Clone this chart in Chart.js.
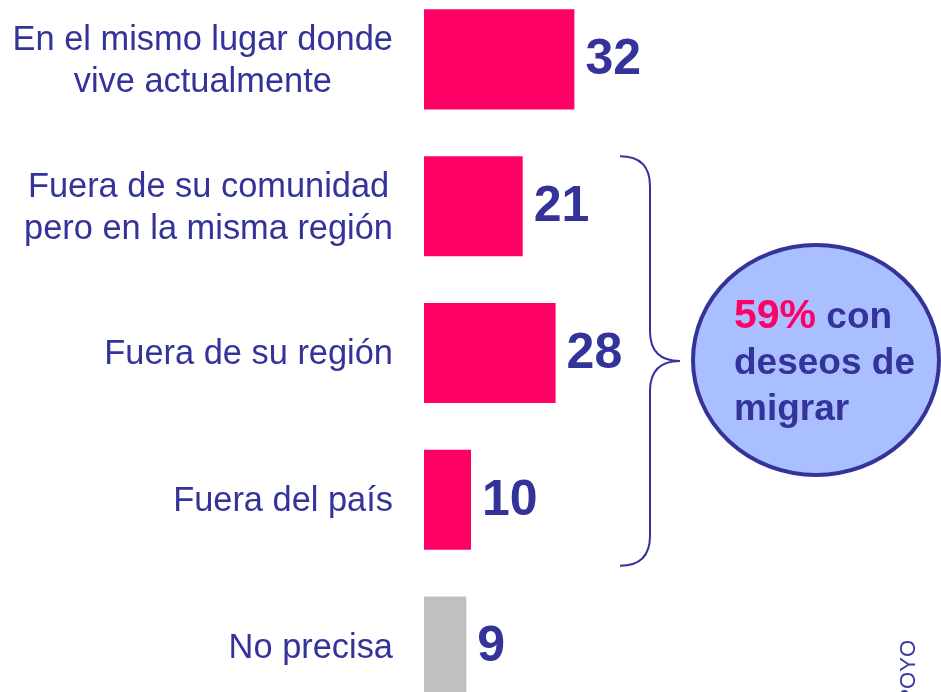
<!DOCTYPE html>
<html>
<head>
<meta charset="utf-8">
<script src="https://cdn.jsdelivr.net/npm/chart.js@4/dist/chart.umd.min.js"></script>
<style>
  html, body { margin: 0; padding: 0; background: #ffffff; overflow: hidden; width: 941px; height: 692px; }
  #wrap { position: absolute; left: 0; top: -14px; width: 941px; height: 734px; }
</style>
</head>
<body>
<div id="wrap"><canvas id="c"></canvas></div>
<script>
// ---- data ----
const categories = [
  ["En el mismo lugar donde", "vive actualmente"],
  ["Fuera de su comunidad", "pero en la misma región"],
  ["Fuera de su región"],
  ["Fuera del país"],
  ["No precisa"]
];
const values = [32, 21, 28, 10, 9];
const barColors = ["#FF0066", "#FF0066", "#FF0066", "#FF0066", "#C0C0C0"];
const noteHighlight = "59%";
const noteLines = [" con", "deseos de", "migrar"];
const sourceText = "APOYO";

const BLUE = "#333399";
const FONT = "'Liberation Sans', Arial, sans-serif";

const labelPlugin = {
  id: "labels",
  afterDatasetsDraw(chart) {
    const ctx = chart.ctx;
    const meta = chart.getDatasetMeta(0);
    const yScale = chart.scales.y;
    ctx.save();
    // category labels: block right-aligned, lines centered in block
    ctx.font = "34.4px " + FONT;
    ctx.fillStyle = BLUE;
    ctx.textBaseline = "middle";
    ctx.textAlign = "center";
    const rightX = 393;
    const lh = 41.7;
    categories.forEach((lines, i) => {
      const cy = yScale.getPixelForValue(i);
      const maxW = Math.max(...lines.map(l => ctx.measureText(l).width));
      const cx = rightX - maxW / 2;
      lines.forEach((l, k) => {
        ctx.fillText(l, cx, cy + (k - (lines.length - 1) / 2) * lh + 2);
      });
    });
    // value labels
    ctx.font = "bold 50px " + FONT;
    ctx.textAlign = "left";
    meta.data.forEach((bar, i) => {
      ctx.fillText(String(values[i]), bar.x + 11, bar.y + 1);
    });
    ctx.restore();
  },
  afterDraw(chart) {
    const ctx = chart.ctx;
    const meta = chart.getDatasetMeta(0);
    const b1 = meta.data[1], b3 = meta.data[3];
    const top = b1.y - b1.height / 2;
    const bottom = b3.y + b3.height / 2 + 16;
    const mid = (top + bottom) / 2;
    ctx.save();
    // brace
    const x0 = 620, xv = 650, xp = 680, r = 30;
    ctx.strokeStyle = BLUE;
    ctx.lineWidth = 2;
    ctx.beginPath();
    ctx.moveTo(x0, top);
    ctx.quadraticCurveTo(xv, top, xv, top + r);
    ctx.lineTo(xv, mid - r);
    ctx.quadraticCurveTo(xv, mid, xp, mid);
    ctx.quadraticCurveTo(xv, mid, xv, mid + r);
    ctx.lineTo(xv, bottom - r);
    ctx.quadraticCurveTo(xv, bottom, x0, bottom);
    ctx.stroke();
    // ellipse
    ctx.beginPath();
    ctx.ellipse(816, mid - 1, 123, 115, 0, 0, Math.PI * 2);
    ctx.fillStyle = "#AABFFF";
    ctx.fill();
    ctx.lineWidth = 4;
    ctx.strokeStyle = BLUE;
    ctx.stroke();
    // ellipse text
    ctx.textAlign = "left";
    ctx.textBaseline = "alphabetic";
    const tx = 734;
    ctx.font = "bold 41px " + FONT;
    ctx.fillStyle = "#FF0066";
    ctx.fillText(noteHighlight, tx, mid - 33);
    const w = ctx.measureText(noteHighlight).width;
    ctx.font = "bold 37px " + FONT;
    ctx.fillStyle = BLUE;
    ctx.fillText(noteLines[0], tx + w, mid - 33);
    ctx.fillText(noteLines[1], tx, mid + 13);
    ctx.fillText(noteLines[2], tx, mid + 59);
    // rotated source
    ctx.translate(909, 654);
    ctx.rotate(-Math.PI / 2);
    ctx.font = "22px " + FONT;
    ctx.fillStyle = "#3A3AA0";
    ctx.textAlign = "right";
    ctx.textBaseline = "middle";
    ctx.fillText(sourceText, 0, 0);
    ctx.restore();
  }
};

new Chart(document.getElementById("c"), {
  type: "bar",
  data: {
    labels: categories,
    datasets: [{
      data: values,
      backgroundColor: barColors,
      borderWidth: 0,
      barPercentage: 0.682,
      categoryPercentage: 1.0
    }]
  },
  options: {
    indexAxis: "y",
    responsive: true,
    maintainAspectRatio: false,
    animation: false,
    layout: { padding: { left: 424, right: 47, top: 0, bottom: 0 } },
    plugins: { legend: { display: false }, tooltip: { enabled: false } },
    scales: {
      x: { display: false, min: 0, max: 100 },
      y: { display: false }
    }
  },
  plugins: [labelPlugin]
});
</script>
</body>
</html>
